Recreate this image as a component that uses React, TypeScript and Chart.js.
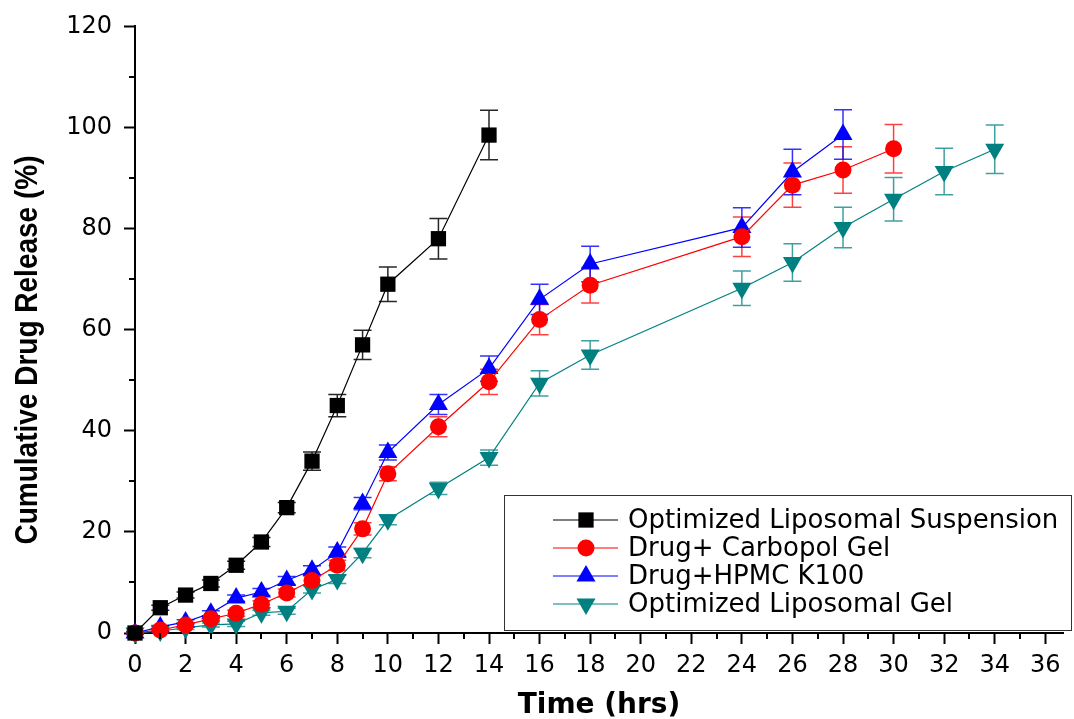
import React, { useEffect, useRef } from 'react';
import { Chart, registerables } from 'chart.js';

Chart.register(...registerables);

// ---- data ----
const seriesNames = [
  'Optimized Liposomal Suspension',
  'Drug+ Carbopol Gel',
  'Drug+HPMC K100',
  'Optimized Liposomal Gel',
];

const suspensionHours = [0, 1, 2, 3, 4, 5, 6, 7, 8, 9, 10, 12, 14];
const suspensionRelease = [0, 5, 7.5, 9.8, 13.4, 18, 24.8, 34, 45, 57, 69, 78, 98.5];
const suspensionError = [0.3, 0.5, 0.6, 0.7, 0.8, 0.9, 1.0, 1.8, 2.2, 2.9, 3.4, 4, 4.9];

const carbopolHours = [0, 1, 2, 3, 4, 5, 6, 7, 8, 9, 10, 12, 14, 16, 18, 24, 26, 28, 30];
const carbopolRelease = [0, 0.6, 1.6, 2.8, 3.9, 5.7, 7.9, 10.4, 13.4, 20.6, 31.5, 40.8, 49.7, 62, 68.8, 78.4, 88.6, 91.6, 95.8];
const carbopolError = [0.2, 0.3, 0.4, 0.5, 0.6, 0.7, 0.8, 0.9, 1.0, 1.2, 1.4, 2, 2.5, 3, 3.5, 3.9, 4.4, 4.6, 4.8];

const hpmcHours = [0, 1, 2, 3, 4, 5, 6, 7, 8, 9, 10, 12, 14, 16, 18, 24, 26, 28];
const hpmcRelease = [0, 1.2, 2.2, 3.9, 6.9, 8.1, 10.4, 12.4, 16, 25.6, 35.7, 45.2, 52.3, 66, 73, 80.2, 91.2, 98.6];
const hpmcError = [0.2, 0.3, 0.4, 0.5, 0.6, 0.7, 0.8, 0.9, 1.0, 1.2, 1.5, 2, 2.5, 3, 3.5, 3.9, 4.5, 4.9];

const gelHours = [0, 1, 2, 3, 4, 5, 6, 7, 8, 9, 10, 12, 14, 16, 18, 24, 26, 28, 30, 32, 34];
const gelRelease = [0, 0.4, 1, 1.6, 1.8, 4, 4.3, 8.6, 10.6, 15.8, 22.4, 28.6, 34.7, 49.4, 55, 68.2, 73.3, 80.2, 85.8, 91.3, 95.7];
const gelError = [0.2, 0.3, 0.3, 0.4, 0.5, 0.5, 0.6, 0.7, 0.8, 0.9, 1.0, 1.2, 1.5, 2.5, 2.8, 3.4, 3.7, 4, 4.3, 4.6, 4.8];

const xTickValues = [0, 2, 4, 6, 8, 10, 12, 14, 16, 18, 20, 22, 24, 26, 28, 30, 32, 34, 36];
const xMinorTickValues = [1, 3, 5, 7, 9, 11, 13, 15, 17, 19, 21, 23, 25, 27, 29, 31, 33, 35];
const yTickValues = [0, 20, 40, 60, 80, 100, 120];
const yMinorTickValues = [10, 30, 50, 70, 90, 110];

const xAxisTitle = 'Time (hrs)';
const yAxisTitle = 'Cumulative Drug Release (%)';

// ---- helpers ----
const toPoints = (xs: number[], ys: number[]) => xs.map((x, i) => ({ x, y: ys[i] }));

function drawMarker(ctx: CanvasRenderingContext2D, style: string, rot: number, x: number, y: number, r: number, color: string) {
  ctx.save();
  ctx.fillStyle = color;
  ctx.beginPath();
  if (style === 'rect') {
    const s = Math.SQRT1_2 * r;
    ctx.rect(x - s, y - s, 2 * s, 2 * s);
  } else if (style === 'circle') {
    ctx.arc(x, y, r, 0, Math.PI * 2);
  } else {
    let a = (rot * Math.PI) / 180;
    ctx.moveTo(x + Math.sin(a) * r, y - Math.cos(a) * r);
    a += (2 * Math.PI) / 3;
    ctx.lineTo(x + Math.sin(a) * r, y - Math.cos(a) * r);
    a += (2 * Math.PI) / 3;
    ctx.lineTo(x + Math.sin(a) * r, y - Math.cos(a) * r);
    ctx.closePath();
  }
  ctx.fill();
  ctx.restore();
}

const errorBarPlugin = {
  id: 'errorBars',
  beforeDatasetsDraw(chart: any) {
    const ctx = chart.ctx as CanvasRenderingContext2D;
    const xs = chart.scales.x;
    const ys = chart.scales.y;
    chart.data.datasets.forEach((ds: any) => {
      const errs: number[] = ds.errors;
      if (!errs) return;
      ctx.save();
      ctx.strokeStyle = ds.errorColor;
      ctx.lineWidth = 1.5;
      ds.data.forEach((p: any, j: number) => {
        const e = errs[j];
        const px = xs.getPixelForValue(p.x);
        const top = ys.getPixelForValue(p.y + e);
        const bot = ys.getPixelForValue(p.y - e);
        ctx.beginPath();
        ctx.moveTo(px, top);
        ctx.lineTo(px, bot);
        ctx.moveTo(px - 9, top);
        ctx.lineTo(px + 9, top);
        ctx.moveTo(px - 9, bot);
        ctx.lineTo(px + 9, bot);
        ctx.stroke();
      });
      ctx.restore();
    });
  },
};

const axisExtrasPlugin = {
  id: 'axisExtras',
  afterDraw(chart: any) {
    const ctx = chart.ctx as CanvasRenderingContext2D;
    const { x, y } = chart.scales;
    const area = chart.chartArea;
    ctx.save();
    ctx.strokeStyle = '#000';
    ctx.lineWidth = 2;
    ctx.beginPath();
    xMinorTickValues.forEach((v) => {
      const px = Math.round(x.getPixelForValue(v));
      ctx.moveTo(px, area.bottom);
      ctx.lineTo(px, area.bottom + 6);
    });
    yMinorTickValues.forEach((v) => {
      const py = Math.round(y.getPixelForValue(v));
      ctx.moveTo(area.left - 6, py);
      ctx.lineTo(area.left, py);
    });
    ctx.stroke();
    // y-axis title (horizontally widened like the reference)
    ctx.translate(28, 350);
    ctx.rotate(-Math.PI / 2);
    ctx.scale(1, 1.15);
    ctx.fillStyle = '#000';
    ctx.font = 'bold 28px "Liberation Sans"';
    ctx.textAlign = 'center';
    ctx.textBaseline = 'middle';
    ctx.fillText(yAxisTitle, 0, 0);
    ctx.restore();
  },
};

const legendPlugin = {
  id: 'boxLegend',
  afterDraw(chart: any) {
    const ctx = chart.ctx as CanvasRenderingContext2D;
    const boxL = 504.5, boxT = 495.5, boxW = 567, boxH = 135;
    ctx.save();
    ctx.fillStyle = '#fff';
    ctx.fillRect(boxL, boxT, boxW, boxH);
    ctx.strokeStyle = '#333';
    ctx.lineWidth = 1;
    ctx.strokeRect(boxL, boxT, boxW, boxH);
    chart.data.datasets.forEach((ds: any, i: number) => {
      const cy = 520 + 28 * i;
      ctx.strokeStyle = ds.borderColor;
      ctx.lineWidth = 1.2;
      ctx.beginPath();
      ctx.moveTo(553, cy);
      ctx.lineTo(618, cy);
      ctx.stroke();
      drawMarker(ctx, ds.pointStyle, ds.pointRotation || 0, 586, cy, ds.pointRadius, ds.pointBackgroundColor);
      ctx.fillStyle = '#000';
      ctx.font = '26px "DejaVu Sans"';
      ctx.textBaseline = 'middle';
      ctx.textAlign = 'left';
      ctx.fillText(ds.label, 628, cy + 1);
    });
    ctx.restore();
  },
};

function makeDataset(label: string, xs: number[], ys: number[], errs: number[], color: string, errColor: string, style: string, radius: number, rotation = 0) {
  return {
    label,
    data: toPoints(xs, ys),
    errors: errs,
    errorColor: errColor,
    showLine: true,
    borderColor: color,
    borderWidth: 1.2,
    backgroundColor: color,
    pointBackgroundColor: color,
    pointBorderColor: color,
    pointBorderWidth: 0,
    pointStyle: style,
    pointRotation: rotation,
    pointRadius: radius,
    pointHoverRadius: radius,
    tension: 0,
    clip: false as any,
  };
}

export default function App() {
  const canvasRef = useRef<HTMLCanvasElement | null>(null);

  useEffect(() => {
    document.body.style.margin = '0';
    const canvas = canvasRef.current;
    if (!canvas) return;
    const tickFont = { family: '"DejaVu Sans"', size: 24 };
    const chart = new Chart(canvas, {
      type: 'scatter',
      data: {
        datasets: [
          makeDataset(seriesNames[0], suspensionHours, suspensionRelease, suspensionError, '#000000', 'rgba(0,0,0,0.85)', 'rect', 10.8),
          makeDataset(seriesNames[1], carbopolHours, carbopolRelease, carbopolError, '#ff0000', 'rgba(255,0,0,0.75)', 'circle', 8.5),
          makeDataset(seriesNames[2], hpmcHours, hpmcRelease, hpmcError, '#0000ff', 'rgba(0,0,255,0.8)', 'triangle', 11),
          makeDataset(seriesNames[3], gelHours, gelRelease, gelError, '#008080', 'rgba(0,128,128,0.75)', 'triangle', 11, 180),
        ] as any,
      },
      options: {
        responsive: false,
        animation: false,
        devicePixelRatio: 1,
        layout: { padding: { top: 25, left: 0, right: 0, bottom: 0 } },
        plugins: { legend: { display: false }, tooltip: { enabled: false } },
        scales: {
          x: {
            type: 'linear',
            min: 0,
            max: 36.7,
            afterBuildTicks: (s: any) => {
              s.ticks = xTickValues.map((v) => ({ value: v }));
            },
            afterFit: (s: any) => {
              s.height = 86;
            },
            grid: { display: true, drawOnChartArea: false, drawTicks: true, tickLength: 11, tickWidth: 2, tickColor: '#000' },
            border: { display: true, color: '#000', width: 2 },
            ticks: { color: '#000', font: tickFont, padding: 7, maxRotation: 0, autoSkip: false },
            title: {
              display: true,
              text: xAxisTitle,
              color: '#000',
              font: { family: '"DejaVu Sans"', weight: 'bold', size: 28, lineHeight: 1 },
              padding: { top: 0, bottom: -1 },
            },
          },
          y: {
            type: 'linear',
            min: 0,
            max: 120,
            afterBuildTicks: (s: any) => {
              s.ticks = yTickValues.map((v) => ({ value: v }));
            },
            afterFit: (s: any) => {
              s.width = 135;
            },
            grid: { display: true, drawOnChartArea: false, drawTicks: true, tickLength: 11, tickWidth: 2, tickColor: '#000' },
            border: { display: true, color: '#000', width: 2 },
            ticks: { color: '#000', font: tickFont, padding: 12 },
            title: { display: false },
          },
        },
      },
      plugins: [errorBarPlugin, axisExtrasPlugin, legendPlugin],
    });
    return () => chart.destroy();
  }, []);

  return <canvas ref={canvasRef} width={1074} height={719} style={{ display: 'block' }} />;
}
